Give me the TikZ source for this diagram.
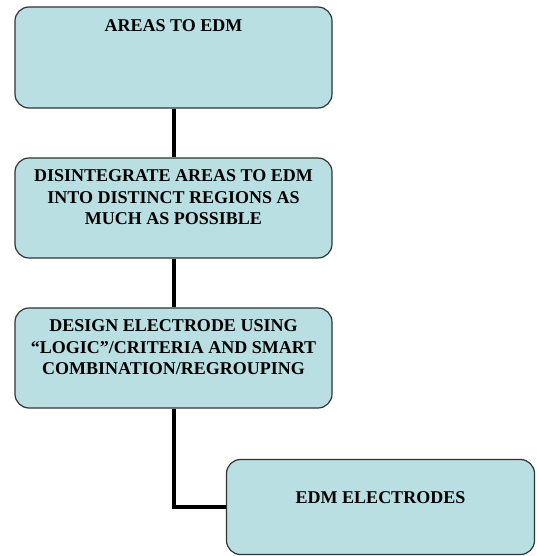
\documentclass[tikz,border=0pt]{standalone}
\usepackage{fontspec}
\setmainfont{Liberation Serif}
\definecolor{stagefill}{HTML}{B9DFE3}
\definecolor{stageline}{HTML}{333333}

\tikzset{
    stage/.style = {draw=stageline, line width=1.2pt, fill=stagefill,
                    rounded corners=14pt, minimum width=317pt, minimum height=100pt,
                    inner sep=0pt},
    caption/.style = {font=\bfseries\fontsize{18}{21.5}\selectfont, align=center,
                      inner sep=0pt, anchor=north},
    link/.style = {line width=4pt, black}
}

\begin{document}
\begin{tikzpicture}[x=1pt, y=-1pt]
    \useasboundingbox (0,0) rectangle (536,556);
    % boxes
    \node[stage, minimum height=101pt] (areas) at (173.5,57.5) {};
    \node[stage] (split) at (173.5,208) {};
    \node[stage] (design) at (173.5,358) {};
    \node[stage, minimum width=308pt, minimum height=95pt] (electrodes) at (380.5,507) {};
    % texts
    \node[caption] (areastext) at ([yshift=-13pt]areas.north) {AREAS TO EDM};
    \node[caption] (splittext) at ([yshift=-12pt]split.north)
        {DISINTEGRATE AREAS TO EDM\\INTO DISTINCT REGIONS AS\\MUCH AS POSSIBLE};
    \node[caption] (designtext) at ([yshift=-12pt]design.north)
        {DESIGN ELECTRODE USING\\``LOGIC''/CRITERIA AND SMART\\COMBINATION/REGROUPING};
    \node[caption] (electrodestext) at ([yshift=-32pt]electrodes.north) {EDM ELECTRODES};
    % links
    \draw[link] (areas.south) -- (split.north);
    \draw[link] (split.south) -- (design.north);
    \draw[link] (design.south) |- (electrodes.west);
\end{tikzpicture}
\end{document}
